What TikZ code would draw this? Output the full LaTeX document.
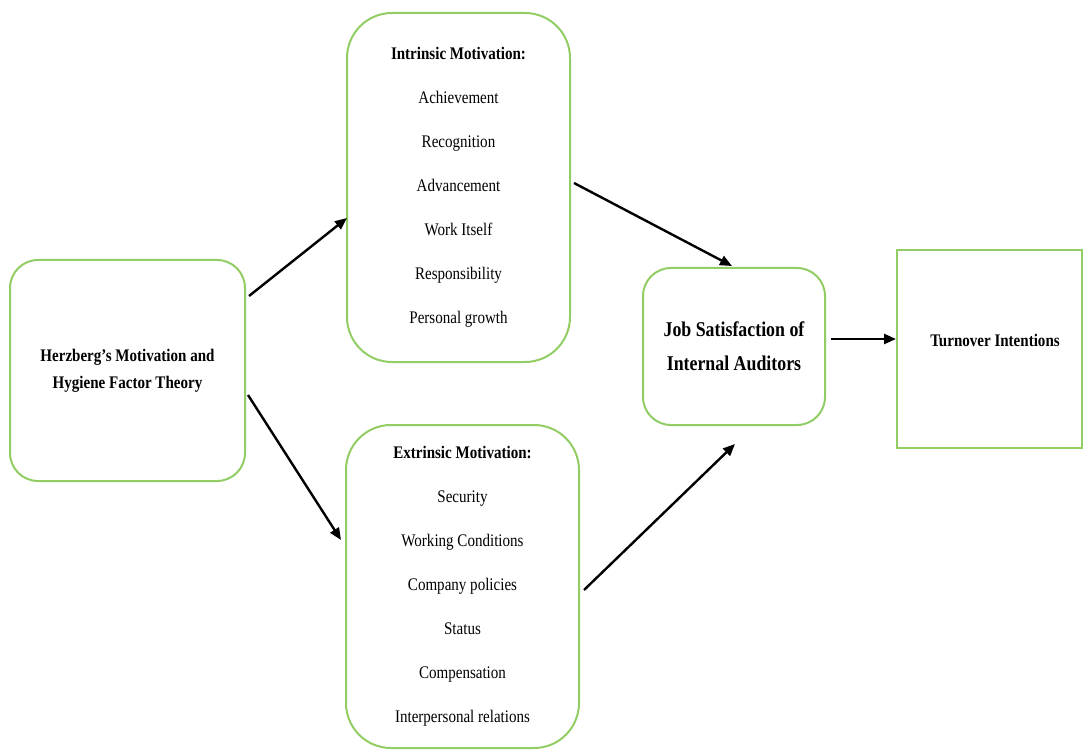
\documentclass[tikz,border=0pt]{standalone}
\usepackage{fontspec}
\setmainfont{Liberation Serif}[FakeStretch=0.85]
\usetikzlibrary{arrows.meta,calc}
\definecolor{boxgreen}{RGB}{146,205,100}
\begin{document}
\begin{tikzpicture}[x=1pt,y=-1pt,
  gbox/.style={draw=boxgreen,line width=2pt,rounded corners=#1,inner sep=0pt,align=center},
  conn/.style={line width=2.4pt,-{Triangle[length=12pt,width=10pt]}},
  itemfont/.style={font=\fontsize{17.7}{44}\selectfont}]
\useasboundingbox (0,0) rectangle (1084,751);
\node[gbox=28pt,minimum width=235pt,minimum height=221pt,font=\bfseries\fontsize{17.7}{27}\selectfont] (herz) at (127.5,370.5) {Herzberg's Motivation and\\Hygiene Factor Theory};
\node[gbox=45pt,minimum width=223pt,minimum height=349pt,itemfont] (intr) at (458.5,187.5)
  {\textbf{Intrinsic Motivation:}\\Achievement\\Recognition\\Advancement\\Work Itself\\Responsibility\\Personal growth};
\node[gbox=45pt,minimum width=233pt,minimum height=323pt,itemfont] (extr) at (462.5,586.5)
  {\textbf{Extrinsic Motivation:}\\Security\\Working Conditions\\Company policies\\Status\\Compensation\\Interpersonal relations};
\node[gbox=28pt,minimum width=182pt,minimum height=157pt,font=\bfseries\fontsize{21}{34}\selectfont] (job) at (734,346.5) {Job Satisfaction of\\Internal Auditors};
\node[gbox=0pt,minimum width=185pt,minimum height=198pt] (turn) at (989.5,349) {};
\node[font=\bfseries\fontsize{17.7}{27}\selectfont] (turnlbl) at (995,340) {Turnover Intentions};
\draw[conn] ($(herz.east)+(3,-74.5)$) -- ($(intr.west)+(1,30.5)$);
\draw[conn] ($(herz.east)+(2,24.5)$) -- ($(extr.west)+(-4,-46.5)$);
\draw[conn] ($(intr.east)+(3,-4.5)$) -- ($(job.north)+(-2,-1)$);
\draw[conn] ($(extr.east)+(4,3.5)$) -- ($(job.south)+(1,18)$);
\draw[conn] ($(job.east)+(5,-7.5)$) -- ($(turn.west)+(0,-10)$);
\end{tikzpicture}
\end{document}
